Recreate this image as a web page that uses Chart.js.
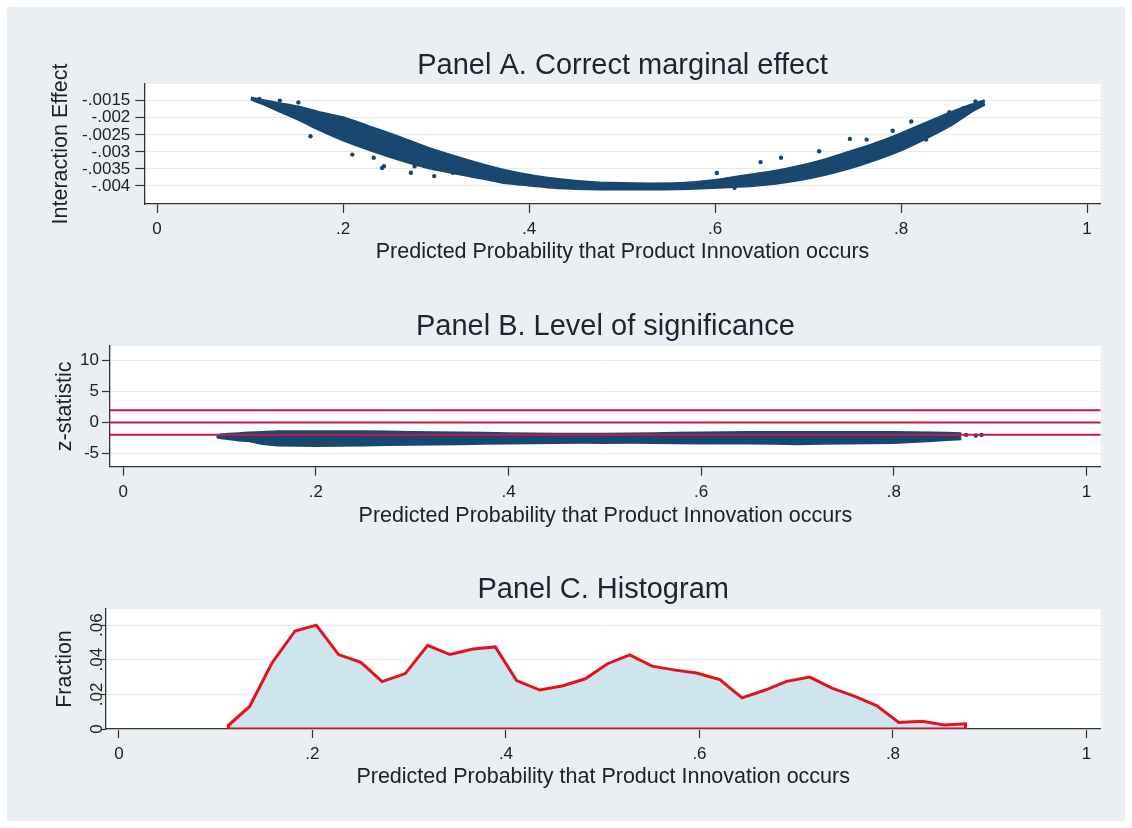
<!DOCTYPE html>
<html>
<head>
<meta charset="utf-8">
<script src="https://cdn.jsdelivr.net/npm/chart.js@4.4.1/dist/chart.umd.min.js"></script>
<style>
    html, body { margin: 0; padding: 0; background: #ffffff; }
    #frame { position: absolute; left: 7px; top: 7px; width: 1118px; height: 814px; background: #e9eff2; }
    .panel { position: absolute; left: 0; width: 1132px; height: 250px; }
</style>
</head>
<body>
<div id="frame"></div>
<div class="panel" style="top:30px"><canvas id="panelA"></canvas></div>
<div class="panel" style="top:290px"><canvas id="panelB"></canvas></div>
<div class="panel" style="top:555px"><canvas id="panelC"></canvas></div>
<script>
// x axis shared by all three panels
const xTicks = [0, 0.2, 0.4, 0.6, 0.8, 1];
const xTickLabels = ['0', '.2', '.4', '.6', '.8', '1'];
const xTitle = 'Predicted Probability that Product Innovation occurs';

// Panel A - edges of the point cloud and stray points
const bandXA = [0.101, 0.115, 0.13, 0.154, 0.175, 0.2, 0.23, 0.26, 0.29, 0.315, 0.34, 0.37, 0.395, 0.42, 0.45, 0.476, 0.5, 0.53, 0.56, 0.584, 0.61, 0.638, 0.665, 0.69, 0.72, 0.745, 0.77, 0.8, 0.825, 0.853, 0.875, 0.89];
const upperA = [-0.00142, -0.00150, -0.00158, -0.00170, -0.00185, -0.00200, -0.00228, -0.00257, -0.00288, -0.00310, -0.00330, -0.00352, -0.00366, -0.00377, -0.00386, -0.00391, -0.00393, -0.00394, -0.00393, -0.00388, -0.00380, -0.00368, -0.00357, -0.00343, -0.00322, -0.00300, -0.00278, -0.00247, -0.00218, -0.00186, -0.00163, -0.00150];
const lowerA = [-0.00145, -0.00160, -0.00178, -0.00207, -0.00235, -0.00265, -0.00295, -0.00322, -0.00345, -0.00359, -0.00372, -0.00388, -0.00396, -0.00403, -0.00407, -0.00409, -0.00409, -0.00409, -0.00408, -0.00406, -0.00403, -0.00399, -0.00392, -0.00382, -0.00365, -0.00347, -0.00325, -0.00294, -0.00262, -0.00222, -0.00182, -0.00160];
const strayXA = [0.11, 0.132, 0.152, 0.153, 0.165, 0.181, 0.183, 0.21, 0.215, 0.233, 0.242, 0.244, 0.273, 0.277, 0.298, 0.318, 0.602, 0.621, 0.649, 0.671, 0.712, 0.745, 0.763, 0.791, 0.811, 0.804, 0.827, 0.852, 0.867, 0.88, 0.887];
const strayYA = [-0.00145, -0.0015, -0.00155, -0.00176, -0.00254, -0.00206, -0.00203, -0.00308, -0.0023, -0.00317, -0.00347, -0.00342, -0.00361, -0.00342, -0.00371, -0.00361, -0.00362, -0.00405, -0.0033, -0.00317, -0.00298, -0.00262, -0.00264, -0.00238, -0.00211, -0.00278, -0.00264, -0.00184, -0.00172, -0.00152, -0.00159];
const yTicksA = [-0.0015, -0.002, -0.0025, -0.003, -0.0035, -0.004];
const yTickLabelsA = ['-.0015', '-.002', '-.0025', '-.003', '-.0035', '-.004'];

// Panel B - z statistic cloud, reference lines
const bandXB = [0.10, 0.12, 0.13, 0.145, 0.16, 0.2, 0.25, 0.3, 0.35, 0.4, 0.45, 0.5, 0.55, 0.6, 0.65, 0.7, 0.75, 0.8, 0.84, 0.87];
const upperB = [-2.0, -1.8, -1.7, -1.6, -1.5, -1.5, -1.5, -1.6, -1.7, -1.8, -1.9, -1.9, -1.8, -1.7, -1.6, -1.6, -1.6, -1.6, -1.7, -1.8];
const lowerB = [-2.4, -2.8, -2.9, -3.4, -3.6, -3.7, -3.6, -3.5, -3.4, -3.3, -3.2, -3.2, -3.2, -3.3, -3.3, -3.4, -3.3, -3.2, -2.9, -2.6];
const strayXB = [0.099, 0.108, 0.115, 0.123, 0.83, 0.86, 0.875, 0.885, 0.891];
const strayYB = [-2.3, -2.0, -2.2, -1.9, -2.6, -2.2, -2.0, -2.1, -2.0];
const refLinesB = [1.96, 0, -1.96];
const yTicksB = [10, 5, 0, -5];
const yTickLabelsB = ['10', '5', '0', '-5'];

// Panel C - histogram outline
const histX = [0.113, 0.135, 0.158, 0.182, 0.204, 0.227, 0.25, 0.272, 0.296, 0.319, 0.342, 0.366, 0.389, 0.411, 0.435, 0.459, 0.482, 0.505, 0.528, 0.551, 0.575, 0.597, 0.621, 0.644, 0.668, 0.69, 0.714, 0.737, 0.76, 0.783, 0.806, 0.83, 0.853, 0.875];
const histY = [0.002, 0.013, 0.038, 0.0566, 0.060, 0.043, 0.0385, 0.0274, 0.032, 0.0483, 0.043, 0.0462, 0.0474, 0.028, 0.0225, 0.025, 0.029, 0.0377, 0.0428, 0.0363, 0.034, 0.0323, 0.0285, 0.018, 0.0225, 0.0275, 0.030, 0.0236, 0.019, 0.0135, 0.0038, 0.0045, 0.0023, 0.003];
const yTicksC = [0, 0.02, 0.04, 0.06];
const yTickLabelsC = ['0', '.02', '.04', '.06'];

const FONT = '"Liberation Sans", Arial, Helvetica, sans-serif';
const NAVY = '#1a476f';
const X_MIN = -0.0137;
const X_MAX = 1.0147;

function points(xs, ys) {
    return xs.map((x, i) => ({ x: x, y: ys[i] }));
}

function fixedTicks(values) {
    return (scale) => { scale.ticks = values.map((v) => ({ value: v })); };
}

// white plot region like stata
const plotBackground = {
    id: 'plotBackground',
    beforeDraw(chart) {
        const { ctx, chartArea } = chart;
        ctx.save();
        ctx.fillStyle = '#ffffff';
        ctx.fillRect(chartArea.left, chartArea.top, chartArea.right - chartArea.left, chartArea.bottom - chartArea.top);
        ctx.restore();
    }
};

function panelOptions(p) {
    return {
        responsive: true,
        maintainAspectRatio: false,
        animation: false,
        layout: { padding: { left: 0, right: 31.3, top: 0, bottom: 0 } },
        plugins: {
            legend: { display: false },
            tooltip: { enabled: false },
            title: {
                display: true,
                text: p.title,
                fullSize: false,
                color: '#1e2530',
                font: { family: FONT, size: 29, weight: 'normal', lineHeight: 1.2 },
                padding: { top: p.titleTop, bottom: p.titleBottom }
            }
        },
        scales: {
            x: {
                type: 'linear',
                min: X_MIN,
                max: X_MAX,
                afterBuildTicks: fixedTicks(xTicks),
                afterFit: (scale) => { scale.height = p.xHeight; },
                grid: { drawOnChartArea: false, tickLength: 9, tickColor: '#333333', tickWidth: 1.2 },
                border: { display: true, color: '#333333', width: 1.3 },
                ticks: {
                    callback: (v, i) => xTickLabels[i],
                    color: '#222222',
                    font: { family: FONT, size: 17 },
                    padding: 6,
                    maxRotation: 0,
                    autoSkip: false
                },
                title: {
                    display: true,
                    text: xTitle,
                    color: '#222222',
                    font: { family: FONT, size: 21.5, lineHeight: 1.2 },
                    padding: { top: 0, bottom: p.xTitleBottom }
                }
            },
            y: {
                type: 'linear',
                min: p.yMin,
                max: p.yMax,
                afterBuildTicks: fixedTicks(p.yTicks),
                afterFit: (scale) => { scale.width = p.yWidth; },
                grid: { color: '#e4ecef', lineWidth: 1, tickLength: p.yTickLength, tickColor: '#333333', tickWidth: 1.2 },
                border: { display: true, color: '#333333', width: 1.3 },
                ticks: Object.assign({
                    callback: (v, i) => p.yTickLabels[i],
                    color: '#222222',
                    font: { family: FONT, size: 17 },
                    padding: p.yTickPadding,
                    autoSkip: false
                }, p.yTickExtra || {}),
                title: {
                    display: true,
                    text: p.yTitle,
                    color: '#222222',
                    font: { family: FONT, size: 21.5, lineHeight: 1.2 },
                    padding: { top: p.yTitleTop, bottom: 0 }
                }
            }
        }
    };
}

function bandDatasets(xs, upper, lower) {
    return [
        { type: 'line', data: points(xs, upper), borderColor: NAVY, borderWidth: 3, pointRadius: 0, tension: 0.15, fill: false, order: 2 },
        { type: 'line', data: points(xs, lower), borderColor: NAVY, borderWidth: 3, pointRadius: 0, tension: 0.15, fill: '-1', backgroundColor: NAVY, order: 2 }
    ];
}

function strayDataset(xs, ys) {
    return { type: 'scatter', data: points(xs, ys), pointRadius: 2.2, pointBackgroundColor: NAVY, pointBorderWidth: 0, showLine: false, order: 1 };
}

// Panel A
new Chart(document.getElementById('panelA'), {
    type: 'scatter',
    data: {
        datasets: bandDatasets(bandXA, upperA, lowerA).concat([strayDataset(strayXA, strayYA)])
    },
    options: panelOptions({
        title: 'Panel A. Correct marginal effect',
        titleTop: 18.6, titleBottom: 0.6,
        xHeight: 76, xTitleBottom: 15.5,
        yMin: -0.004528, yMax: -0.00101,
        yTicks: yTicksA, yTickLabels: yTickLabelsA,
        yWidth: 144.3, yTickLength: 9, yTickPadding: 5,
        yTitle: 'Interaction Effect', yTitleTop: 48.6
    }),
    plugins: [plotBackground]
});

// Panel B
let refDatasets = refLinesB.map((v) => ({
    type: 'line',
    data: [{ x: X_MIN, y: v }, { x: X_MAX, y: v }],
    borderColor: '#c8194b',
    borderWidth: 2,
    pointRadius: 0,
    fill: false,
    order: 0
}));

new Chart(document.getElementById('panelB'), {
    type: 'scatter',
    data: {
        datasets: refDatasets.concat(bandDatasets(bandXB, upperB, lowerB), [strayDataset(strayXB, strayYB)])
    },
    options: panelOptions({
        title: 'Panel B. Level of significance',
        titleTop: 19.6, titleBottom: 1.6,
        xHeight: 73.3, xTitleBottom: 11.5,
        yMin: -7.1, yMax: 12.26,
        yTicks: yTicksB, yTickLabels: yTickLabelsB,
        yWidth: 110, yTickLength: 8, yTickPadding: 3,
        yTitle: 'z-statistic', yTitleTop: 52.1
    }),
    plugins: [plotBackground]
});

// Panel C - filled outline plus the red baseline under it
let histPoints = [{ x: histX[0], y: 0 }].concat(points(histX, histY), [{ x: histX[histX.length - 1], y: 0 }]);

new Chart(document.getElementById('panelC'), {
    type: 'scatter',
    data: {
        datasets: [{
            type: 'line',
            data: [{ x: histX[0], y: 0 }, { x: histX[histX.length - 1], y: 0 }],
            borderColor: '#c8141c',
            borderWidth: 3,
            pointRadius: 0,
            fill: false,
            order: 0
        }, {
            type: 'line',
            data: histPoints,
            borderColor: '#e3121c',
            borderWidth: 3,
            backgroundColor: '#cfe5ee',
            fill: 'origin',
            pointRadius: 0,
            tension: 0,
            order: 1
        }]
    },
    options: panelOptions({
        title: 'Panel C. Histogram',
        titleTop: 17.6, titleBottom: 1.6,
        xHeight: 76, xTitleBottom: 15.5,
        yMin: 0, yMax: 0.0693,
        yTicks: yTicksC, yTickLabels: yTickLabelsC,
        yWidth: 105.7, yTickLength: 5, yTickPadding: -8.6,
        yTickExtra: { minRotation: 90, maxRotation: 90, crossAlign: 'center' },
        yTitle: 'Fraction', yTitleTop: 52.1
    }),
    plugins: [plotBackground]
});
</script>
</body>
</html>
